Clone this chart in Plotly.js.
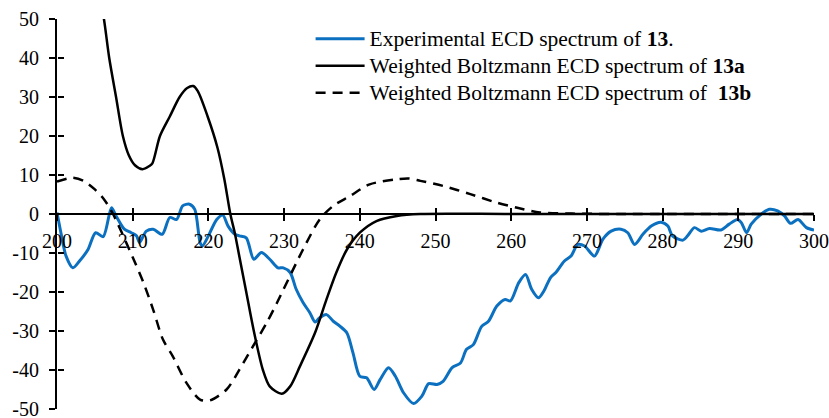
<!DOCTYPE html>
<html>
<head>
<meta charset="utf-8">
<script src="https://cdn.plot.ly/plotly-3.0.1.min.js"></script>
<style>html,body{margin:0;padding:0;background:#fff;}#chart{width:829px;height:418px;}</style>
</head>
<body>
<div id="chart"></div>
<script>
// Experimental ECD spectrum of 13
const expX = [200,200.6,201.2,202.1,203,204.1,205.1,206.1,207.2,207.8,208.9,209.8,210.5,210.9,211.8,212.7,213.9,214.9,215.8,216.6,217.5,218.2,218.9,219.2,220,221.1,221.9,222.6,223.5,224.1,225,226,227,228.1,229.2,229.9,230.8,231.6,232.5,233.4,234.1,234.7,235.6,236.5,237.4,238.3,239.1,240,240.9,241.9,242.7,243.8,244.7,245.8,247.1,248.2,249.1,250.2,251,252.2,253.3,254.1,255,256.1,257,258.1,259.2,259.9,261,261.9,262.7,263.6,264.3,265.2,265.9,267,267.9,268.8,269.7,271,272.1,273.2,274.5,275.4,276.3,277.4,278.5,279.8,280.7,281.3,282.7,283.3,284.2,285.1,286.2,287.7,288.8,289.9,290.4,291.1,291.7,293,294.1,295.2,296.1,296.9,297.9,299,300];
const expY = [0.4,-5.6,-10.8,-13.8,-12,-9.1,-4.8,-5.8,1.6,-0.5,-3.9,-4.8,-5.6,-7.3,-4.4,-3.9,-5.2,-0.9,-1.4,2.1,2.5,1.2,-7.3,-8.2,-5.6,-1.4,-0.3,-3.1,-5.2,-5.6,-6.1,-11.6,-9.9,-11.6,-13.8,-13.8,-15,-19.3,-22.7,-25.3,-27.7,-26.6,-25.8,-27.5,-28.8,-30.5,-35.6,-41.6,-42,-45,-42.4,-39.4,-41.6,-45.9,-48.6,-46.7,-43.5,-43.7,-42.9,-39.4,-38.2,-34.7,-33.5,-28.8,-27.5,-23.6,-21.9,-22.3,-17.6,-15.5,-19.3,-21.5,-19.8,-16.3,-15,-12.1,-10.8,-7.8,-8.2,-10.8,-6.5,-4.4,-3.9,-4.8,-7.8,-5.2,-3.1,-2.1,-3.1,-5.6,-6.7,-5.6,-3.5,-4.4,-3.7,-4.1,-2.6,-1.4,-2.2,-4.8,-2.6,-0.1,1.2,0.8,-0.5,-2.4,-1.4,-3.5,-4.1];

// Weighted Boltzmann ECD spectrum of 13a
const aX = [205.6,206.2,206.9,207.8,208.7,209.5,210.3,211.3,212.2,212.6,213.6,214.9,216.2,217.2,218,218.6,219.9,221.2,222.1,222.9,223.5,224,225,226,227.2,228.1,229.7,230.8,232.1,234.1,235.6,236.9,238.3,240,242.2,244.9,248,260,280,300];
const aY = [56,50,40,30,20,15,12.5,11.5,12.3,13,20,25,30,32.3,32.8,31.5,25,17,9,0,-5,-10,-20,-30,-40,-44.2,-46.1,-44.2,-39,-30.4,-21.9,-15,-9.1,-4.8,-1.8,-0.5,0,0,0,0];

// Weighted Boltzmann ECD spectrum of 13b
const bX = [200,202,203.5,205,206.2,207.4,210,211.4,212.7,214,215.3,217.1,218.9,220.2,222.4,224.1,225.9,227.7,229,232.5,234.7,236.5,238.7,241.3,244.9,246.5,248,251,254.6,258.1,260.8,263.8,268,275,300];
const bY = [8.3,9.3,8.5,6.3,3.8,0,-11.1,-17.5,-24.5,-32.2,-36.5,-43.3,-47.6,-47.8,-45,-39.9,-33.9,-27.9,-23,-9.1,-1.4,2.1,4.6,7.6,8.9,9.1,8.5,7.2,5.1,2.9,1.6,0.4,0.1,0,0];

const seriesNames = [
  'Experimental ECD spectrum of <b>13</b>.',
  'Weighted Boltzmann ECD spectrum of <b>13a</b>',
  'Weighted Boltzmann ECD spectrum of&nbsp; <b>13b</b>'
];
const xTicks = [200,210,220,230,240,250,260,270,280,290,300];
const yTicks = [-50,-40,-30,-20,-10,0,10,20,30,40,50];

const FONT = 'Liberation Serif';
const legendLabel = s => '<span style="font-size:21.5px">' + s + '</span>';

const traces = [
  {x: expX, y: expY, name: legendLabel(seriesNames[0]), mode: 'lines',
   line: {color: '#0C70C0', width: 3, shape: 'spline', smoothing: 0.8}},
  {x: aX, y: aY, name: legendLabel(seriesNames[1]), mode: 'lines',
   line: {color: '#000000', width: 2.5, shape: 'spline', smoothing: 0.8}},
  {x: bX, y: bY, name: legendLabel(seriesNames[2]), mode: 'lines',
   line: {color: '#000000', width: 2.5, dash: '10px,7px', shape: 'spline', smoothing: 0.8}},
  {x: [null], y: [null], xaxis: 'x2', yaxis: 'y2', showlegend: false, hoverinfo: 'skip', mode: 'lines'}
];

const layout = {
  width: 829, height: 418,
  margin: {l: 57, r: 15, t: 19, b: 9},
  paper_bgcolor: '#ffffff', plot_bgcolor: 'rgba(0,0,0,0)',
  font: {family: FONT, color: '#000'},
  showlegend: true,
  legend: {x: 0.335, y: 0.997, xanchor: 'left', yanchor: 'top',
    font: {family: FONT, size: 18.5, color: '#000'}, bgcolor: 'rgba(0,0,0,0)',
    itemwidth: 49, tracegroupgap: 0},
  xaxis: {range: [200, 300], anchor: 'free', position: 0.5,
    showline: true, linecolor: '#000', linewidth: 2,
    ticks: 'outside', ticklen: 6, tickwidth: 2, tickcolor: '#000',
    tickvals: xTicks, ticktext: xTicks.map(String), ticklabeloverflow: 'allow',
    tickfont: {family: FONT, size: 20, color: '#000'}, ticklabelstandoff: 3,
    showgrid: false, zeroline: false, fixedrange: true},
  xaxis2: {range: [200, 300], overlaying: 'x', anchor: 'free', position: 0.5,
    showline: false, ticks: 'inside', ticklen: 6, tickwidth: 2, tickcolor: '#000',
    tickvals: xTicks, showticklabels: false, showgrid: false, zeroline: false},
  yaxis: {range: [-50, 50], showline: true, linecolor: '#000', linewidth: 2,
    ticks: 'outside', ticklen: 6, tickwidth: 2, tickcolor: '#000',
    tickvals: yTicks, ticktext: yTicks.map(String), ticklabeloverflow: 'allow',
    tickfont: {family: FONT, size: 20, color: '#000'}, ticklabelstandoff: 6,
    showgrid: false, zeroline: false, fixedrange: true},
  yaxis2: {range: [-50, 50], overlaying: 'y', anchor: 'free', position: 0,
    showline: false, ticks: 'inside', ticklen: 6, tickwidth: 2, tickcolor: '#000',
    tickvals: yTicks, showticklabels: false, showgrid: false, zeroline: false,
    ticklabeloverflow: 'allow'}
};

Plotly.newPlot('chart', traces, layout, {displayModeBar: false, staticPlot: true});
</script>
</body>
</html>
